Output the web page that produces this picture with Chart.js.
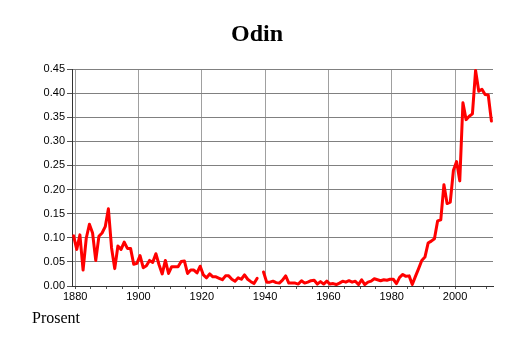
<!DOCTYPE html>
<html>
<head>
<meta charset="utf-8">
<title>Odin</title>
<script src="https://cdn.jsdelivr.net/npm/chart.js@4.4.1/dist/chart.umd.min.js"></script>
<style>
  html, body { margin: 0; padding: 0; background: #fff; }
</style>
</head>
<body>
<canvas id="odinChart" width="514" height="343"></canvas>
<script>
// share of the population with the name, one value per year, 1938 is missing
var firstYear = 1879;
var shares = [
  0.104, 0.076, 0.106, 0.033, 0.099, 0.128, 0.110, 0.053, 0.103, 0.110, // 1879-1888
  0.123, 0.160, 0.079, 0.036, 0.083, 0.076, 0.091, 0.078, 0.078, 0.045, // 1889-1898
  0.047, 0.063, 0.038, 0.042, 0.053, 0.049, 0.067, 0.044, 0.025, 0.053, // 1899-1908
  0.026, 0.040, 0.040, 0.040, 0.051, 0.052, 0.026, 0.033, 0.033, 0.027, // 1909-1918
  0.041, 0.023, 0.017, 0.025, 0.019, 0.019, 0.016, 0.013, 0.021, 0.021, // 1919-1928
  0.014, 0.010, 0.017, 0.014, 0.023, 0.014, 0.009, 0.005, 0.016, null,  // 1929-1938
  0.029, 0.008, 0.008, 0.010, 0.007, 0.006, 0.012, 0.021, 0.006, 0.006, // 1939-1948
  0.006, 0.004, 0.011, 0.006, 0.008, 0.011, 0.012, 0.004, 0.009, 0.004, // 1949-1958
  0.010, 0.004, 0.005, 0.003, 0.006, 0.010, 0.008, 0.011, 0.008, 0.010, // 1959-1968
  0.003, 0.013, 0.003, 0.008, 0.010, 0.015, 0.013, 0.011, 0.013, 0.012, // 1969-1978
  0.014, 0.014, 0.005, 0.018, 0.024, 0.020, 0.021, 0.003, 0.020, 0.036, // 1979-1988
  0.053, 0.060, 0.089, 0.093, 0.098, 0.135, 0.137, 0.210, 0.171, 0.174, // 1989-1998
  0.240, 0.258, 0.218, 0.380, 0.345, 0.352, 0.357, 0.447, 0.404, 0.408, // 1999-2008
  0.397, 0.396, 0.342                                                     // 2009-2011
];
var xTicks = [1880, 1885, 1890, 1895, 1900, 1905, 1910, 1915, 1920, 1925, 1930,
  1935, 1940, 1945, 1950, 1955, 1960, 1965, 1970, 1975, 1980, 1985, 1990,
  1995, 2000, 2005, 2010];
var xLabelEvery = 20;
var yTicks = [0, 0.05, 0.10, 0.15, 0.20, 0.25, 0.30, 0.35, 0.40, 0.45];

var titleText = 'Odin';
var unitText = 'Prosent';

// each yearly value sits in the middle of its year
var points = [];
for (var i = 0; i < shares.length; i++) {
  points.push({ x: firstYear + i + 0.5, y: shares[i] });
}

var labelFont = { family: '"Liberation Sans", Arial, sans-serif', size: 11 };

var textPlugin = {
  id: 'texts',
  afterDraw: function (chart) {
    var ctx = chart.ctx;
    ctx.save();
    ctx.fillStyle = '#000';
    ctx.textBaseline = 'alphabetic';
    ctx.font = 'bold 24px "Liberation Serif", "Times New Roman", serif';
    ctx.textAlign = 'center';
    ctx.fillText(titleText, 257, 41);
    ctx.font = '16px "Liberation Serif", "Times New Roman", serif';
    ctx.textAlign = 'left';
    ctx.fillText(unitText, 32, 323);
    ctx.restore();
  }
};

new Chart(document.getElementById('odinChart').getContext('2d'), {
  type: 'line',
  data: {
    datasets: [{
      data: points,
      borderColor: '#ff0000',
      borderWidth: 3,
      borderJoinStyle: 'round',
      borderCapStyle: 'round',
      pointRadius: 0,
      pointHoverRadius: 0,
      tension: 0,
      spanGaps: false,
      fill: false,
      clip: 4
    }]
  },
  options: {
    responsive: false,
    animation: false,
    devicePixelRatio: 1,
    layout: { padding: { top: 69, right: 21, bottom: 0, left: 0 } },
    plugins: {
      legend: { display: false },
      tooltip: { enabled: false },
      title: { display: false }
    },
    scales: {
      x: {
        type: 'linear',
        min: firstYear,
        max: 2012,
        afterBuildTicks: function (scale) {
          scale.ticks = xTicks.map(function (v) { return { value: v }; });
        },
        afterFit: function (scale) { scale.height = 57; },
        ticks: {
          color: '#000',
          font: labelFont,
          padding: 1,
          maxRotation: 0,
          autoSkip: false,
          callback: function (v) { return v % xLabelEvery === 0 ? String(v) : ''; }
        },
        grid: {
          color: function (c) {
            return c.tick && c.tick.value % xLabelEvery === 0 ? '#a0a0a0' : 'rgba(0,0,0,0)';
          },
          tickColor: '#555',
          tickLength: 3,
          lineWidth: 1
        },
        border: { color: '#333', width: 1 }
      },
      y: {
        min: 0,
        max: 0.45,
        afterBuildTicks: function (scale) {
          scale.ticks = yTicks.map(function (v) { return { value: v }; });
        },
        afterFit: function (scale) { scale.width = 72; },
        ticks: {
          color: '#000',
          font: labelFont,
          padding: 2,
          callback: function (v) { return v.toFixed(2); }
        },
        grid: {
          color: '#808080',
          tickColor: '#555',
          tickLength: 5,
          lineWidth: 1
        },
        border: { color: '#333', width: 1 }
      }
    }
  },
  plugins: [textPlugin]
});
</script>
</body>
</html>
